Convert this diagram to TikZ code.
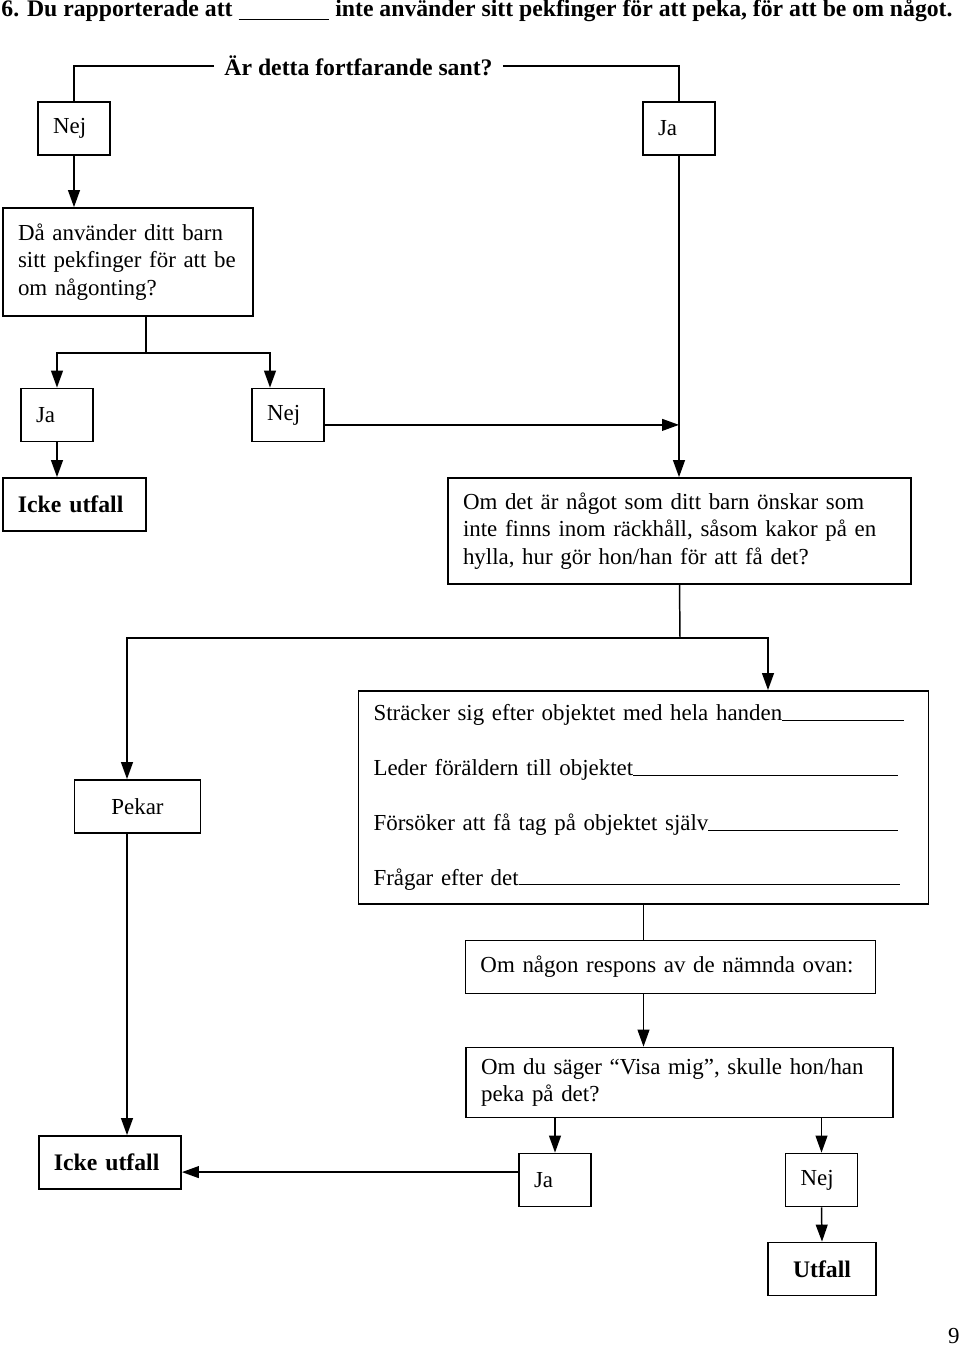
\documentclass[tikz,border=0pt,12pt]{standalone}
\usepackage{fontspec}
\setmainfont{Liberation Serif}
\usetikzlibrary{arrows.meta}
\tikzset{Box/.style={draw=black, line width=0.9pt, rectangle, inner xsep=7.6pt, inner ysep=2pt, minimum height=26.8pt, align=left}}

\begin{document}
\fontsize{11.6}{13.8}\selectfont
\begin{tikzpicture}[x=0.506pt, y=-0.506pt,
    Bold/.style={font=\fontsize{12}{14}\selectfont\bfseries},
    Arrow/.style={-{Triangle[length=8.6pt, width=6pt]}, line width=0.75pt},
    Line/.style={line width=0.75pt}]
        \useasboundingbox (0,0) rectangle (960,1347);
        % \draw[help lines, gray] (0,0) grid (960,1347);
        \node[anchor=base west, inner sep=0pt, Bold] (T) at (1,17) {6. Du rapporterade att \rule[-1.5pt]{46pt}{0.6pt} inte använder sitt pekfinger för att peka, för att be om något.};
        \node[inner xsep=5pt, Bold] (Q) at (358.5,66) {Är detta fortfarande sant?};
        \node[Box, text width=21.2pt] (N1) at (74,128.5) {Nej};
        \node[Box, text width=21.2pt] (J1) at (679,128.5) {Ja};
        \node[Box, text width=111.3pt, minimum height=54.6pt] (D) at (128,262) {Då använder ditt barn\\sitt pekfinger för att be\\om någonting?};
        \node[Box, text width=21.2pt] (J2) at (57,415) {Ja};
        \node[Box, text width=21.2pt] (N2) at (288,415) {Nej};
        \node[Box, text width=57.2pt, Bold] (I1) at (74.5,504.5) {Icke utfall};
        \node[Box, text width=219.1pt, minimum height=53.6pt] (O) at (679.5,531) {Om det är något som ditt barn önskar som\\inte finns inom räckhåll, såsom kakor på en\\hylla, hur gör hon/han för att få det?};
        \node[Box, align=center, minimum width=63.8pt] (P) at (137.5,806.5) {Pekar};
        \node[Box, text width=273.2pt, minimum height=107.8pt] (S) at (643.5,797.5) {Sträcker sig efter objektet med hela handen\hrulefill\kern5pt\\[13.9pt]
            Leder föräldern till objektet\hrulefill\kern8pt\\[13.9pt]
            Försöker att få tag på objektet själv\hrulefill\kern8pt\\[13.9pt]
            Frågar efter det\hrulefill\kern7pt};
        \node[Box, text width=192.3pt] (G) at (670.5,967) {Om någon respons av de nämnda ovan:};
        \node[Box, text width=200.8pt, minimum height=35.4pt] (V) at (679.5,1082.5) {Om du säger “Visa mig”, skulle hon/han\\peka på det?};
        \node[Box, text width=21.2pt] (J3) at (555,1180) {Ja};
        \node[Box, text width=21.2pt] (N3) at (821.5,1180) {Nej};
        \node[Box, text width=56.7pt, Bold] (I2) at (110,1162.5) {Icke utfall};
        \node[Box, align=center, minimum width=54.6pt, Bold] (U) at (822,1269) {Utfall};
        \node[anchor=base east, inner sep=0pt] (Pg) at (960,1343) {9};

        \coordinate (D1) at (146,353);
        \coordinate (D2) at (270,353);
        \coordinate (O1) at (680,638);
        \coordinate (O2) at (127,638);
        \coordinate (O3) at (768,638);

        \draw[Line] (Q.west) -| (N1.north);
        \draw[Line] (Q.east) -| (J1.north);
        \draw[Arrow] (N1.south) -- (N1.south |- D.north);
        \draw[Line] (D1 |- D.south) -- (D1);
        \draw[Arrow] (D1) -| (J2.north);
        \draw[Arrow] (D1) -- (D2) -- (D2 |- N2.north);
        \draw[Arrow] (J2.south) -- (J2.south |- I1.north);
        \draw[Arrow] (J1.south) -- (J1.south |- O.north);
        \draw[Arrow] ([yshift=-5pt]N2.east) -- ([yshift=-5pt]N2.east -| J1.south);
        \draw[Line] (O.south) -- (O1);
        \draw[Arrow] (O1) -- (O2) -- (O2 |- P.north);
        \draw[Arrow] (O1) -- (O3) -- (O3 |- S.north);
        \draw[Arrow] (O2 |- P.south) -- (O2 |- I2.north);
        \draw[Line] (S.south) -- (S.south |- G.north);
        \draw[Arrow] (S.south |- G.south) -- (S.south |- V.north);
        \draw[Arrow] (J3 |- V.south) -- (J3.north);
        \draw[Arrow] (N3 |- V.south) -- (N3.north);
        \draw[Arrow] ([yshift=4pt]J3.west) -- ([yshift=4pt]J3.west -| I2.east);
        \draw[Arrow] (N3.south) -- (U.north);

    \end{tikzpicture}
\end{document}
